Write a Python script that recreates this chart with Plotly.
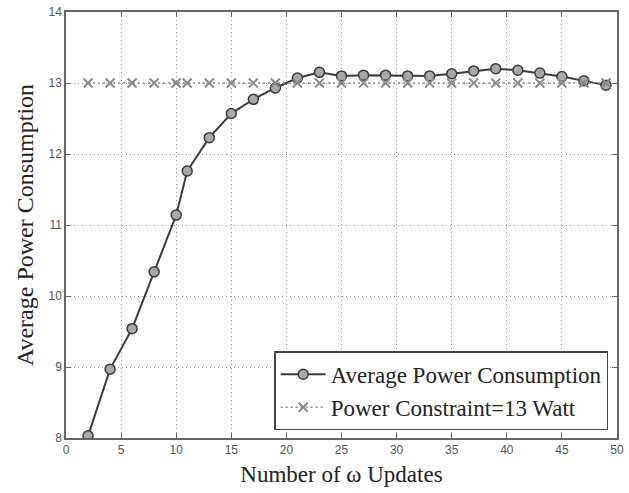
import plotly.graph_objects as go

updates = [2, 4, 6, 8, 10, 11, 13, 15, 17, 19, 21, 23, 25, 27, 29, 31, 33, 35, 37, 39, 41, 43, 45, 47, 49]
avg_power = [8.03, 8.97, 9.54, 10.34, 11.14, 11.76, 12.23, 12.57, 12.77, 12.93, 13.07, 13.15, 13.10,
             13.11, 13.11, 13.10, 13.10, 13.13, 13.17, 13.20, 13.18, 13.14, 13.09, 13.03, 12.97]
constraint = [13.0] * len(updates)
x_ticks = [0, 5, 10, 15, 20, 25, 30, 35, 40, 45, 50]
y_ticks = [8, 9, 10, 11, 12, 13, 14]

fig = go.Figure()
fig.add_trace(go.Scatter(
    x=updates, y=avg_power, mode="lines+markers", name="Average Power Consumption",
    line=dict(color="#3a3a3a", width=2),
    marker=dict(symbol="circle", size=10, color="#a8a8a8", line=dict(color="#3a3a3a", width=1.5)),
))
fig.add_trace(go.Scatter(
    x=updates, y=constraint, mode="lines+markers", name="Power Constraint=13 Watt",
    line=dict(color="#8a8a8a", width=1.5, dash="2px,3px"),
    marker=dict(symbol="x-thin", size=9, color="#8a8a8a", line=dict(color="#8a8a8a", width=2)),
))

axis_common = dict(
    showline=True, linecolor="#666", linewidth=1.5, mirror="ticks",
    ticks="inside", ticklen=5, tickcolor="#666",
    showgrid=True, gridcolor="#999", griddash="1px,3px", gridwidth=1,
    zeroline=False,
    tickfont=dict(family="Liberation Sans, Arial", size=12, color="#555"),
)

fig.update_layout(
    width=629, height=493,
    margin=dict(l=66, r=5, t=10, b=55),
    paper_bgcolor="white", plot_bgcolor="white",
    xaxis=dict(range=[0, 50], tickvals=x_ticks,
               title=dict(text="Number of ω Updates", standoff=10,
                          font=dict(family="Liberation Serif, Times New Roman", size=23, color="#222")),
               **axis_common),
    yaxis=dict(range=[8, 14], tickvals=y_ticks,
               title=dict(text="Average Power Consumption", standoff=8,
                          font=dict(family="Liberation Serif, Times New Roman", size=24, color="#222")),
               **axis_common),
    legend=dict(
        x=0.984, y=0.018, xanchor="right", yanchor="bottom",
        bgcolor="white", bordercolor="#444", borderwidth=1.5,
        font=dict(family="Liberation Serif, Times New Roman", size=23, color="#222"),
        tracegroupgap=0, itemwidth=45,
    ),
    showlegend=True,
)

fig.write_html("out.html")
